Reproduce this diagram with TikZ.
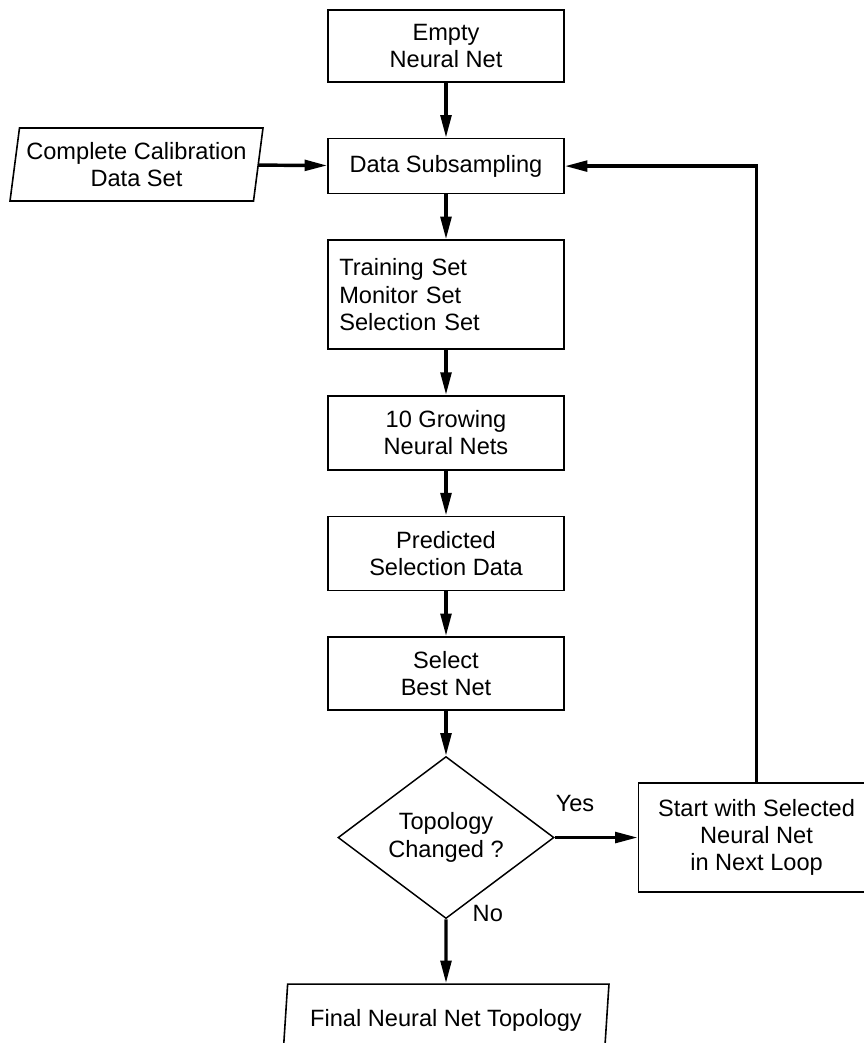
\documentclass[tikz,border=0pt]{standalone}
\usepackage{fontspec}
\setmainfont{Liberation Sans}
\usetikzlibrary{arrows.meta, positioning, shapes.geometric}
\newcommand\flowfont{\fontsize{17.7pt}{20.5pt}\selectfont}

\begin{document}
\begin{tikzpicture}[
    x=0.75pt, y=-0.75pt,
    >={Triangle[length=17pt, width=8pt]},
    box/.style={draw, line width=1.2pt, minimum width=177pt, inner sep=0pt, font=\flowfont, align=center},
    io/.style={draw, trapezium, trapezium left angle=78, trapezium right angle=102, trapezium stretches body, line width=1.2pt, inner sep=0pt, font=\flowfont, align=center},
    decision/.style={draw, diamond, aspect=1.33, minimum width=162pt, minimum height=121.5pt, line width=1.1pt, inner sep=0pt, font=\flowfont, align=center},
    flow/.style={->, line width=2.6pt},
    node distance=33.75pt,
]
    \useasboundingbox (0,0) rectangle (864,1043);
    \clip (0,0) rectangle (864,1043);

    % main column
    \node[box, minimum height=54pt] (empty) at (446,46) {Empty\\Neural Net};
    \node[box, minimum height=41.25pt, below=41.25pt of empty] (sub) {Data Subsampling};
    \node[box, minimum height=81.75pt, text width=160pt, align=left, below=of sub] (sets) {Training Set\\Monitor Set\\Selection Set};
    \node[box, minimum height=55.5pt, below=of sets] (grow) {10 Growing\\Neural Nets};
    \node[box, minimum height=55.5pt, below=of grow] (pred) {Predicted\\Selection Data};
    \node[box, minimum height=54.75pt, below=of pred] (best) {Select\\Best Net};
    \node[decision, below=of best] (changed) {Topology\\Changed ?};
    \node[io, minimum width=244.5pt, minimum height=54pt, below=48pt of changed] (final) {Final Neural Net Topology};

    % side nodes
    \node[box, minimum height=81.75pt, right=62.25pt of changed] (start) {Start with Selected\\Neural Net\\in Next Loop};
    \node[io, minimum width=189.75pt, minimum height=54.75pt] (calib) at (136.5,164.5) {Complete Calibration\\Data Set};

    \node[font=\flowfont] (yes) at (575,803) {Yes};
    \node[font=\flowfont, anchor=west] (no) at (468,913) {No};

    \draw[flow] (empty) -- (sub);
    \draw[flow] (sub) -- (sets);
    \draw[flow] (sets) -- (grow);
    \draw[flow] (grow) -- (pred);
    \draw[flow] (pred) -- (best);
    \draw[flow] (best) -- (changed);
    \draw[flow] (changed) -- (final);
    \draw[flow] (changed) -- (start);
    \draw[flow] (start.north) |- (sub.east);
    \draw[flow] (calib) -- (sub);
\end{tikzpicture}
\end{document}
